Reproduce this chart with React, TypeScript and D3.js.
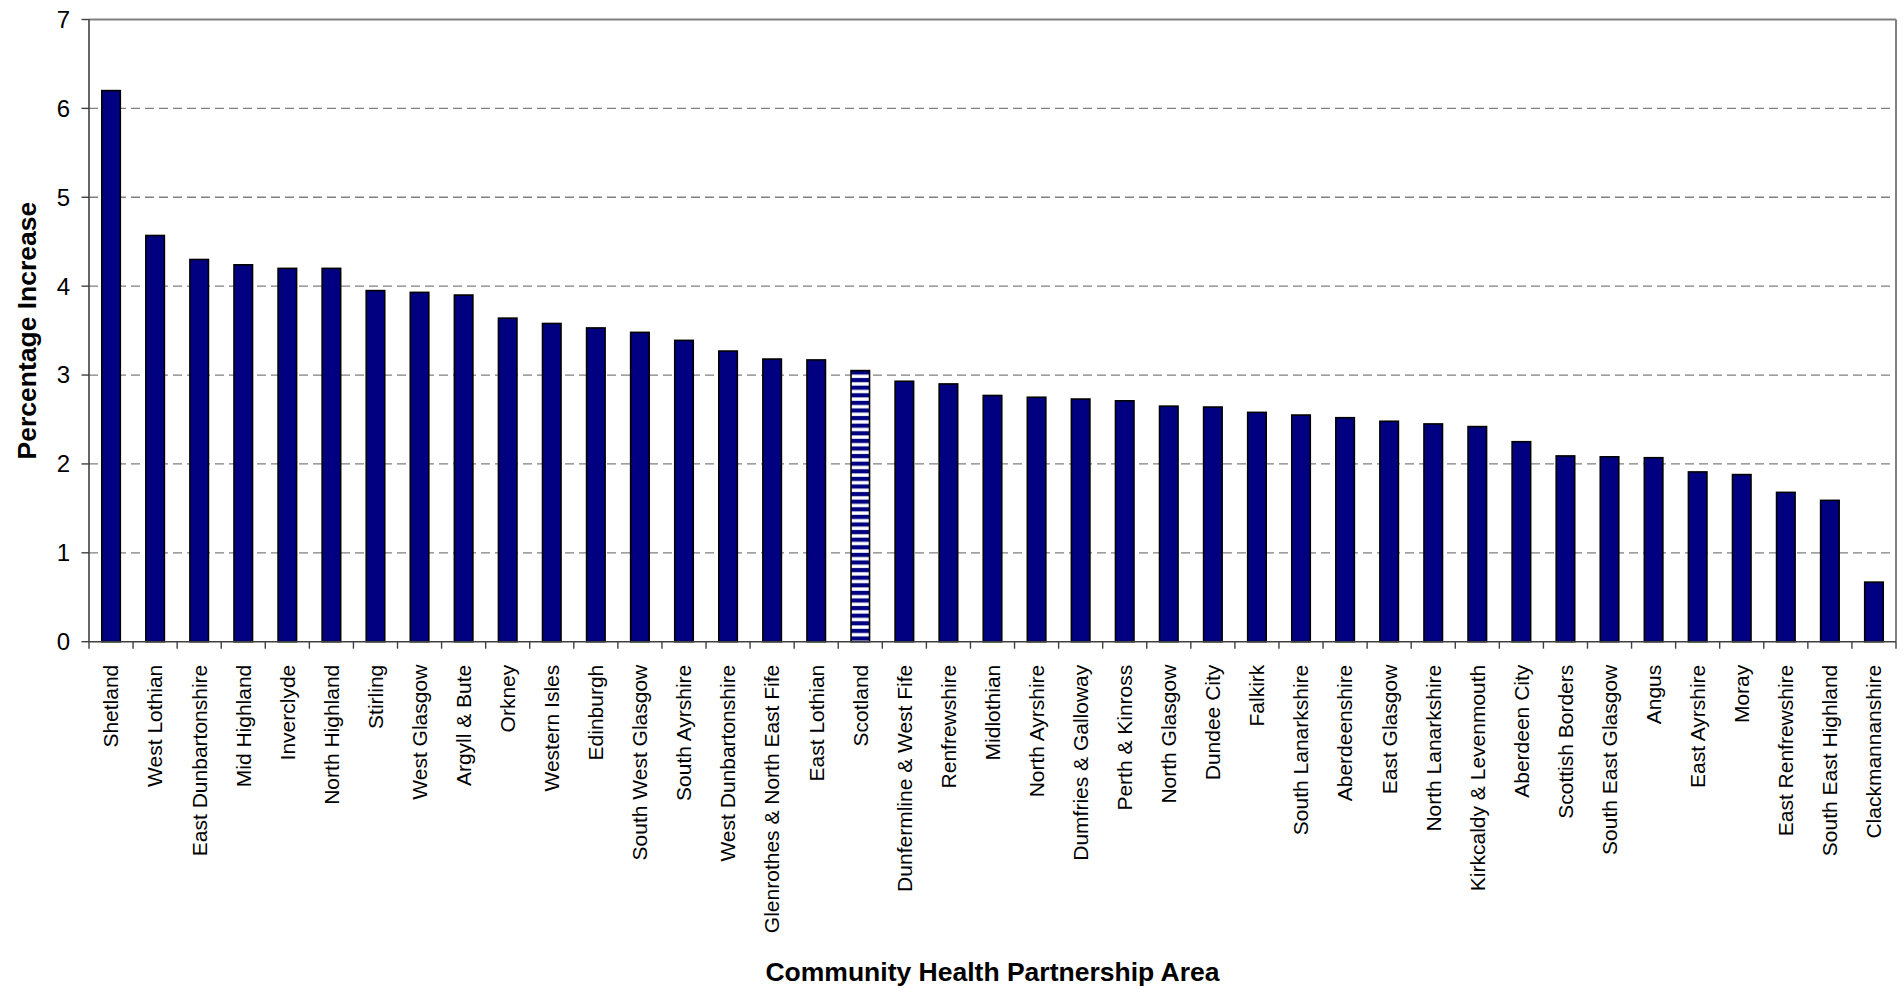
import React from "react";
import * as d3 from "d3";

const categories: string[] = [
  "Shetland", "West Lothian", "East Dunbartonshire", "Mid Highland", "Inverclyde",
  "North Highland", "Stirling", "West Glasgow", "Argyll & Bute", "Orkney",
  "Western Isles", "Edinburgh", "South West Glasgow", "South Ayrshire", "West Dunbartonshire",
  "Glenrothes & North East Fife", "East Lothian", "Scotland", "Dunfermline & West Fife", "Renfrewshire",
  "Midlothian", "North Ayrshire", "Dumfries & Galloway", "Perth & Kinross", "North Glasgow",
  "Dundee City", "Falkirk", "South Lanarkshire", "Aberdeenshire", "East Glasgow",
  "North Lanarkshire", "Kirkcaldy & Levenmouth", "Aberdeen City", "Scottish Borders", "South East Glasgow",
  "Angus", "East Ayrshire", "Moray", "East Renfrewshire", "South East Highland",
  "Clackmannanshire",
];

const values: number[] = [
  6.2, 4.57, 4.3, 4.24, 4.2,
  4.2, 3.95, 3.93, 3.9, 3.64,
  3.58, 3.53, 3.48, 3.39, 3.27,
  3.18, 3.17, 3.05, 2.93, 2.9,
  2.77, 2.75, 2.73, 2.71, 2.65,
  2.64, 2.58, 2.55, 2.52, 2.48,
  2.45, 2.42, 2.25, 2.09, 2.08,
  2.07, 1.91, 1.88, 1.68, 1.59,
  0.67,
];

const highlighted: string[] = ["Scotland"];
const yTicks: number[] = [0, 1, 2, 3, 4, 5, 6, 7];
const yTitle = "Percentage Increase";
const xTitle = "Community Health Partnership Area";

const W = 1903;
const H = 989;
const left = 89;
const right = 1896;
const top = 19.5;
const bottom = 641.7;
const FONT = "'Liberation Sans', Arial, Helvetica, sans-serif";

export default function App() {
  const x = d3
    .scaleBand<string>()
    .domain(categories)
    .range([left, right])
    .paddingInner(0.58)
    .paddingOuter(0.29);
  const y = d3.scaleLinear().domain([0, 7]).range([bottom, top]);
  const step = x.step();
  const bw = x.bandwidth();

  return (
    <svg
      width={W}
      height={H}
      style={{ position: "absolute", left: 0, top: 0, background: "#fff" }}
      fontFamily={FONT}
    >
      <defs>
        <pattern id="stripes" patternUnits="userSpaceOnUse" width={8} height={7.6}>
          <rect width={8} height={7.6} fill="#000080" />
          <rect y={2.2} width={8} height={3.4} fill="#ffffff" />
        </pattern>
      </defs>
      <rect x={0} y={0} width={W} height={H} fill="#fff" />

      {/* gridlines */}
      {yTicks.filter((t) => t > 0 && t < 7).map((t) => (
        <line
          key={"g" + t}
          x1={left}
          x2={right}
          y1={y(t)}
          y2={y(t)}
          stroke="#808080"
          strokeWidth={1.3}
          strokeDasharray="9,5"
        />
      ))}

      {/* top and right border */}
      <line x1={left} x2={right} y1={top} y2={top} stroke="#808080" strokeWidth={2} />
      <line x1={right} x2={right} y1={top} y2={bottom} stroke="#808080" strokeWidth={2} />

      {/* bars */}
      {categories.map((c, i) => (
        <rect
          key={c}
          x={x(c)}
          y={y(values[i])}
          width={bw}
          height={bottom - y(values[i])}
          fill={highlighted.includes(c) ? "url(#stripes)" : "#000080"}
          stroke="#000"
          strokeWidth={1.6}
        />
      ))}

      {/* y axis */}
      <line x1={left} x2={left} y1={top} y2={bottom} stroke="#404040" strokeWidth={1.6} />
      {yTicks.map((t) => (
        <g key={"yt" + t}>
          <line x1={left - 7.5} x2={left} y1={y(t)} y2={y(t)} stroke="#404040" strokeWidth={1.4} />
          <text
            x={left - 19}
            y={y(t)}
            dy="0.35em"
            textAnchor="end"
            fontSize={24}
            fill="#000"
          >
            {t}
          </text>
        </g>
      ))}

      {/* x axis */}
      <line x1={left} x2={right} y1={bottom} y2={bottom} stroke="#404040" strokeWidth={1.6} />
      {d3.range(categories.length + 1).map((i) => (
        <line
          key={"xt" + i}
          x1={left + i * step}
          x2={left + i * step}
          y1={bottom}
          y2={bottom + 7}
          stroke="#404040"
          strokeWidth={1.4}
        />
      ))}
      {categories.map((c) => {
        const cx = (x(c) as number) + bw / 2;
        const ty = bottom + 23;
        return (
          <text
            key={"xl" + c}
            transform={`translate(${cx},${ty}) rotate(-90)`}
            dy="0.35em"
            textAnchor="end"
            fontSize={21}
            fill="#000"
          >
            {c}
          </text>
        );
      })}

      {/* titles */}
      <text
        x={(left + right) / 2}
        y={972}
        dy="0.35em"
        textAnchor="middle"
        fontSize={26.5}
        fontWeight="bold"
        fill="#000"
      >
        {xTitle}
      </text>
      <text
        transform={`translate(27,${(top + bottom) / 2}) rotate(-90)`}
        dy="0.35em"
        textAnchor="middle"
        fontSize={26.5}
        fontWeight="bold"
        fill="#000"
      >
        {yTitle}
      </text>
    </svg>
  );
}
